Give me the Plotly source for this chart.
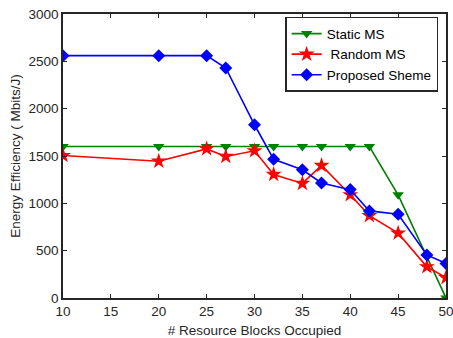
import plotly.graph_objects as go

x_static = [10, 20, 25, 27, 30, 32, 35, 37, 40, 42, 45, 50]
y_static = [1600, 1600, 1600, 1600, 1600, 1600, 1600, 1600, 1600, 1600, 1090, 0]

x_random = [10, 20, 25, 27, 30, 32, 35, 37, 40, 42, 45, 48, 50]
y_random = [1505, 1445, 1575, 1495, 1555, 1305, 1210, 1400, 1090, 870, 685, 330, 215]

x_prop = [10, 20, 25, 27, 30, 32, 35, 37, 40, 42, 45, 48, 50]
y_prop = [2560, 2560, 2560, 2430, 1830, 1465, 1355, 1215, 1145, 920, 885, 455, 365]

x_ticks = [10, 15, 20, 25, 30, 35, 40, 45, 50]
y_ticks = [0, 500, 1000, 1500, 2000, 2500, 3000]

fig = go.Figure()
fig.add_trace(go.Scatter(x=x_static, y=y_static, mode="lines+markers", name="Static MS",
                         line=dict(color="#008000", width=1.6),
                         marker=dict(symbol="triangle-down", size=10, color="#008000")))
fig.add_trace(go.Scatter(x=x_random, y=y_random, mode="lines+markers", name=" Random MS",
                         line=dict(color="#ff0000", width=1.6),
                         marker=dict(symbol="star", size=12, color="#ff0000")))
fig.add_trace(go.Scatter(x=x_prop, y=y_prop, mode="lines+markers", name="Proposed Sheme",
                         line=dict(color="#0000ff", width=1.6),
                         marker=dict(symbol="diamond", size=10, color="#0000ff")))

axis_common = dict(showgrid=False, zeroline=False, showline=True, linecolor="#262626",
                   linewidth=1.5, mirror="ticks", ticks="inside", ticklen=4,
                   tickcolor="#262626", tickwidth=1, automargin=False,
                   ticklabeloverflow="allow",
                   tickfont=dict(family="Liberation Sans, Arial", size=13.5, color="#262626"))

fig.update_layout(
    width=453, height=338,
    margin=dict(l=63, r=7, t=14, b=40),
    paper_bgcolor="white", plot_bgcolor="white",
    font=dict(family="Liberation Sans, Arial", size=13, color="#262626"),
    xaxis=dict(range=[10, 50], tickvals=x_ticks,
               title=dict(text="# Resource Blocks Occupied", standoff=8,
                          font=dict(size=13.5, color="#262626")),
               **axis_common),
    yaxis=dict(range=[0, 3000], tickvals=y_ticks,
               title=dict(text="Energy Efficiency ( Mbits/J)", standoff=5,
                          font=dict(size=13.5, color="#262626")),
               **axis_common),
    legend=dict(x=0.58, y=0.99, xanchor="left", yanchor="top",
                bordercolor="#262626", borderwidth=1.5, bgcolor="white",
                font=dict(size=13.5, color="#000000"),
                tracegroupgap=0, itemwidth=30),
    showlegend=True,
)

fig.write_html("out.html")
